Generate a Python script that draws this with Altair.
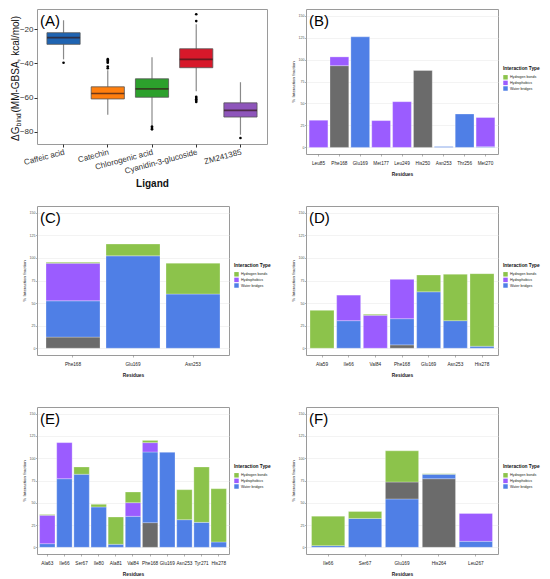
import altair as alt
import pandas as pd

# ---------------- Panel A : MM-GBSA boxplots ----------------
ligands = ["Caffeic acid", "Catechin", "Chlorogenic acid", "Cyanidin-3-glucoside", "ZM241385"]
box_colors = ["#1f64b2", "#ff7f0e", "#2ca02c", "#d7182a", "#8e55bb"]
q1 = [-28.8, -60.8, -59.8, -42.5, -71.4]
median = [-24.9, -57.6, -54.9, -37.6, -67.5]
q3 = [-22.0, -53.7, -49.0, -31.4, -63.1]
whisker_lo = [-37.6, -70.0, -76.3, -56.3, -81.8]
whisker_hi = [-14.7, -44.0, -36.3, -17.0, -51.0]
outlier_ligand = (["Caffeic acid"]
                  + ["Catechin"] * 6
                  + ["Chlorogenic acid"] * 3
                  + ["Cyanidin-3-glucoside"] * 7
                  + ["ZM241385"])
outlier_value = ([-39.6]
                 + [-37.5, -38.3, -39.0, -39.6, -41.8, -42.8]
                 + [-77.0, -77.8, -78.6]
                 + [-11.2, -15.2, -59.5, -60.3, -61.0, -61.8, -62.6]
                 + [-83.7])

# ---------------- Panels B-F : interaction fractions ----------------
types = ["Hydrogen bonds", "Hydrophobics", "Water bridges", "Ionic"]
type_colors = ["#8cc34b", "#9b5cff", "#4f7fe6", "#6b6b6b"]
legend_types = ["Hydrogen bonds", "Hydrophobics", "Water bridges"]

B_res = ["Leu85", "Phe168", "Glu169", "Met177", "Leu249", "His250", "Asn253", "Thr256", "Met270"]
B_seg = [("Leu85", "Hydrophobics", 30.9),
         ("Phe168", "Ionic", 93.0), ("Phe168", "Hydrophobics", 10.0),
         ("Glu169", "Water bridges", 125.8),
         ("Met177", "Hydrophobics", 30.5),
         ("Leu249", "Hydrophobics", 52.0),
         ("His250", "Ionic", 87.5),
         ("Asn253", "Water bridges", 1.0),
         ("Thr256", "Water bridges", 38.0),
         ("Met270", "Water bridges", 0.8), ("Met270", "Hydrophobics", 33.2)]

C_res = ["Phe168", "Glu169", "Asn253"]
C_seg = [("Phe168", "Ionic", 12.3), ("Phe168", "Water bridges", 40.2),
         ("Phe168", "Hydrophobics", 41.7), ("Phe168", "Hydrogen bonds", 1.1),
         ("Glu169", "Water bridges", 102.3), ("Glu169", "Hydrogen bonds", 13.1),
         ("Asn253", "Water bridges", 60.0), ("Asn253", "Hydrogen bonds", 34.2)]

D_res = ["Ala59", "Ile66", "Val84", "Phe168", "Glu169", "Asn253", "His278"]
D_seg = [("Ala59", "Hydrogen bonds", 42.0),
         ("Ile66", "Water bridges", 30.5), ("Ile66", "Hydrophobics", 28.3),
         ("Val84", "Hydrophobics", 36.5), ("Val84", "Hydrogen bonds", 1.1),
         ("Phe168", "Ionic", 3.7), ("Phe168", "Water bridges", 29.0), ("Phe168", "Hydrophobics", 43.6),
         ("Glu169", "Water bridges", 62.5), ("Glu169", "Hydrogen bonds", 18.6),
         ("Asn253", "Water bridges", 30.5), ("Asn253", "Hydrogen bonds", 51.4),
         ("His278", "Water bridges", 2.2), ("His278", "Hydrogen bonds", 80.4)]

E_res = ["Ala63", "Ile66", "Ser67", "Ile80", "Ala81", "Val84", "Phe168", "Glu169", "Asn253", "Tyr271", "His278"]
E_seg = [("Ala63", "Water bridges", 4.1), ("Ala63", "Hydrophobics", 31.9), ("Ala63", "Hydrogen bonds", 0.7),
         ("Ile66", "Water bridges", 77.0), ("Ile66", "Hydrophobics", 40.5),
         ("Ser67", "Water bridges", 82.0), ("Ser67", "Hydrogen bonds", 8.2),
         ("Ile80", "Water bridges", 45.3), ("Ile80", "Hydrogen bonds", 3.0),
         ("Ala81", "Water bridges", 3.4), ("Ala81", "Hydrogen bonds", 30.6),
         ("Val84", "Water bridges", 34.8), ("Val84", "Hydrophobics", 15.3), ("Val84", "Hydrogen bonds", 12.0),
         ("Phe168", "Ionic", 27.7), ("Phe168", "Water bridges", 79.3),
         ("Phe168", "Hydrophobics", 10.5), ("Phe168", "Hydrogen bonds", 2.5),
         ("Glu169", "Water bridges", 106.6),
         ("Asn253", "Water bridges", 31.0), ("Asn253", "Hydrogen bonds", 33.7),
         ("Tyr271", "Water bridges", 28.0), ("Tyr271", "Hydrogen bonds", 62.2),
         ("His278", "Water bridges", 6.0), ("His278", "Hydrogen bonds", 59.8)]

F_res = ["Ile66", "Ser67", "Glu169", "His264", "Leu267"]
F_seg = [("Ile66", "Water bridges", 1.9), ("Ile66", "Hydrogen bonds", 33.1),
         ("Ser67", "Water bridges", 32.4), ("Ser67", "Hydrogen bonds", 7.8),
         ("Glu169", "Water bridges", 54.3), ("Glu169", "Ionic", 19.0), ("Glu169", "Hydrogen bonds", 35.0),
         ("His264", "Ionic", 77.0), ("His264", "Water bridges", 4.9), ("His264", "Hydrogen bonds", 0.7),
         ("Leu267", "Water bridges", 6.7), ("Leu267", "Hydrophobics", 31.3)]

y_ticks_bar = [0, 25, 50, 75, 100, 125, 150]
y_ticks_A = [-80, -60, -40, -20]

FONT = "Liberation Sans"


def panel_label(txt, y=12):
    return alt.Chart(pd.DataFrame({"t": [txt]})).mark_text(
        align="left", baseline="middle", fontSize=15, font=FONT, color="black"
    ).encode(x=alt.value(3), y=alt.value(y), text="t:N")


def bar_panel(label, residues, segs, w, h):
    df = pd.DataFrame(segs, columns=["Residue", "Type", "Value"])
    df["ord"] = range(len(df))
    bars = alt.Chart(df).mark_bar(stroke="white", strokeWidth=0.4, strokeOpacity=0.7).encode(
        x=alt.X("Residue:N", sort=residues,
                scale=alt.Scale(paddingInner=0.1, paddingOuter=0.15),
                axis=alt.Axis(title="Residues", titleFontSize=4.8, titleFontWeight="bold",
                              titleColor="#222", titlePadding=6,
                              labelAngle=0, labelFontSize=4.7, labelColor="#222",
                              labelPadding=4.4, tickSize=2, tickColor="#666", tickWidth=0.5,
                              labelOverlap=False, domain=False, grid=False)),
        y=alt.Y("Value:Q", stack="zero",
                scale=alt.Scale(domain=[-7.5, 157.5], nice=False, zero=False),
                axis=alt.Axis(title="% Interaction fraction", titleFontSize=4.4,
                              titleFontWeight="normal", titleColor="#222", titlePadding=3,
                              values=y_ticks_bar, labelFontSize=3.6, labelColor="#555",
                              labelPadding=0.5, tickSize=1.5, tickColor="#666", tickWidth=0.5,
                              domain=False, grid=True, gridColor="#ebebeb", gridWidth=0.6)),
        color=alt.Color("Type:N", scale=alt.Scale(domain=types, range=type_colors),
                        legend=alt.Legend(title="Interaction Type", values=legend_types,
                                          orient="none", legendX=w + 5, legendY=57,
                                          titleFontSize=4.8, titleFontWeight="bold",
                                          titleColor="#111", titlePadding=4,
                                          labelFontSize=3.6, labelColor="#222", labelOffset=2,
                                          symbolType="square", symbolSize=20,
                                          symbolStrokeWidth=0, rowPadding=0.6, padding=0)),
        order=alt.Order("ord:Q"),
    )
    return alt.layer(bars, panel_label(label)).properties(width=w, height=h)


# ---- Panel A ----
dfA = pd.DataFrame({"Ligand": ligands, "q1": q1, "med": median, "q3": q3,
                    "lo": whisker_lo, "hi": whisker_hi})
dfO = pd.DataFrame({"Ligand": outlier_ligand, "v": outlier_value})

xA = alt.X("Ligand:N", sort=ligands,
           scale=alt.Scale(paddingInner=0.25, paddingOuter=0.225),
           axis=alt.Axis(title="Ligand", titleFontSize=10, titleFontWeight="bold",
                         titleColor="#111", titlePadding=3,
                         labelAngle=345, labelAlign="right", labelBaseline="top",
                         labelFontSize=8, labelColor="#333333", labelPadding=1,
                         tickSize=3, tickColor="#333", labelOverlap=False,
                         domain=False, grid=False))
yScaleA = alt.Scale(domain=[-87.2, -8.1], nice=False, zero=False)
yAxisA = alt.Axis(title=None, values=y_ticks_A, labelFontSize=8, labelColor="#333333",
                  labelPadding=1, tickSize=3, tickColor="#333", domain=False, grid=False)

whisk = alt.Chart(dfA).mark_rule(color="#8a8a8a", strokeWidth=1.2).encode(
    x=xA, y=alt.Y("lo:Q", scale=yScaleA, axis=yAxisA), y2="hi:Q")
boxes = alt.Chart(dfA).mark_bar(stroke="#555", strokeWidth=0.8).encode(
    x=xA, y=alt.Y("q1:Q", scale=yScaleA, axis=yAxisA), y2="q3:Q",
    color=alt.Color("Ligand:N", scale=alt.Scale(domain=ligands, range=box_colors), legend=None))
meds = alt.Chart(dfA).mark_tick(color="#331a1a", thickness=1.6, size=33).encode(
    x=xA, y=alt.Y("med:Q", scale=yScaleA, axis=yAxisA))
outs = alt.Chart(dfO).mark_circle(color="black", size=7, opacity=1).encode(
    x=xA, y=alt.Y("v:Q", scale=yScaleA, axis=yAxisA))


def vtext(txt, size, x, y):
    return alt.Chart(pd.DataFrame({"t": [txt]})).mark_text(
        align="left", baseline="middle", angle=270, fontSize=size, font=FONT, color="#111"
    ).encode(x=alt.value(x), y=alt.value(y), text="t:N")


panelA = alt.layer(
    whisk, boxes, meds, outs, panel_label("(A)", 11.5),
    vtext("ΔG", 10, -21, 132), vtext("bind", 7, -18.5, 117.5),
    vtext("(MM-GBSA, kcal/mol)", 10, -21, 103.5),
).properties(width=230, height=135)

panelB = bar_panel("(B)", B_res, B_seg, 192, 145)
panelC = bar_panel("(C)", C_res, C_seg, 192, 149)
panelD = bar_panel("(D)", D_res, D_seg, 192, 149)
panelE = bar_panel("(E)", E_res, E_seg, 192, 147)
panelF = bar_panel("(F)", F_res, F_seg, 192, 147)

chart = alt.concat(
    panelA, panelB, panelC, panelD, panelE, panelF,
    columns=2, spacing={"row": 52, "column": 39}, bounds="flush",
).resolve_scale(
    color="independent", x="independent", y="independent"
).properties(
    padding={"left": 2, "top": 0, "right": 0, "bottom": 0}
).configure(
    font=FONT
).configure_view(
    stroke="#9a9a9a", strokeWidth=1
)

chart.save("out.html", embed_options={"renderer": "svg", "actions": False})
